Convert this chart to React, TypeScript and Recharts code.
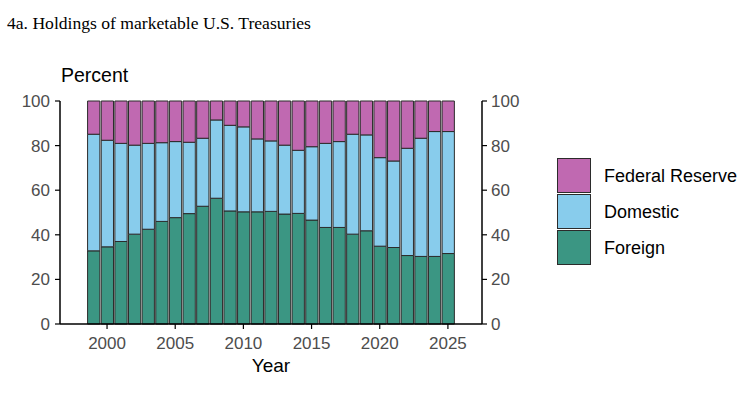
import React from "react";
import { ComposedChart, Bar, Line, XAxis, YAxis } from "recharts";

const years = [
  1999, 2000, 2001, 2002, 2003, 2004, 2005, 2006, 2007, 2008, 2009, 2010, 2011,
  2012, 2013, 2014, 2015, 2016, 2017, 2018, 2019, 2020, 2021, 2022, 2023, 2024, 2025,
];

// share held by foreign investors
const foreign = [
  32.8, 34.6, 37.0, 40.3, 42.5, 46.0, 47.7, 49.5, 52.8, 56.4, 50.7, 50.3, 50.3,
  50.5, 49.3, 49.6, 46.6, 43.3, 43.3, 40.3, 41.8, 34.9, 34.3, 30.7, 30.3, 30.3, 31.6,
];

// share held by domestic private investors
const domestic = [
  52.3, 47.8, 44.0, 39.9, 38.5, 35.3, 34.1, 32.0, 30.5, 35.1, 38.4, 38.1, 32.7,
  31.6, 30.9, 28.3, 32.9, 37.7, 38.5, 44.8, 43.0, 39.7, 38.8, 48.1, 53.0, 56.0, 54.7,
];

// share held by the Federal Reserve
const fed = [
  14.9, 17.6, 19.0, 19.8, 19.0, 18.7, 18.2, 18.5, 16.7, 8.5, 10.9, 11.6, 17.0,
  17.9, 19.8, 22.1, 20.5, 19.0, 18.2, 14.9, 15.2, 25.4, 26.9, 21.2, 16.7, 13.7, 13.7,
];

const yTicks = [0, 20, 40, 60, 80, 100];
const xTicks = [2000, 2005, 2010, 2015, 2020, 2025];

const series = [
  { key: "fed", name: "Federal Reserve", color: "#C069B1" },
  { key: "domestic", name: "Domestic", color: "#88CCEC" },
  { key: "foreign", name: "Foreign", color: "#3B9683" },
];

const data = years.map((year, i) => ({
  year,
  foreign: foreign[i],
  domestic: domestic[i],
  fed: fed[i],
}));

const sans = "'Liberation Sans', Arial, sans-serif";
const tickStyle = { fill: "#4D4D4D", fontSize: 17, fontFamily: sans };

export default function App() {
  return (
    <div style={{ position: "absolute", left: 0, top: 0, width: 753, height: 393, background: "#fff" }}>
      <div
        style={{
          position: "absolute",
          left: 7,
          top: 13,
          fontFamily: "'Liberation Serif', 'Times New Roman', serif",
          fontSize: 17.6,
          color: "#000",
          whiteSpace: "nowrap",
        }}
      >
        4a. Holdings of marketable U.S. Treasuries
      </div>
      <div
        style={{
          position: "absolute",
          left: 61,
          top: 64,
          fontFamily: sans,
          fontSize: 19.5,
          color: "#000",
        }}
      >
        Percent
      </div>

      <div style={{ position: "absolute", left: 0, top: 0 }}>
        <ComposedChart
          width={753}
          height={393}
          data={data}
          margin={{ top: 101, right: 211, bottom: 19, left: 0 }}
        >
          <XAxis
            dataKey="year"
            type="number"
            domain={[1996.55, 2027.5]}
            ticks={xTicks}
            interval={0}
            tick={tickStyle}
            tickSize={5}
            tickMargin={8}
            height={50}
            axisLine={{ stroke: "#000", strokeWidth: 1.5 }}
            tickLine={{ stroke: "#000", strokeWidth: 1.2 }}
            label={{
              value: "Year",
              position: "insideBottom",
              offset: 2,
              style: { fill: "#000", fontSize: 19, fontFamily: sans },
            }}
          />
          <YAxis
            yAxisId="left"
            domain={[0, 100]}
            ticks={yTicks}
            interval={0}
            width={60}
            tick={tickStyle}
            tickSize={5}
            tickMargin={5}
            axisLine={{ stroke: "#000", strokeWidth: 1.5 }}
            tickLine={{ stroke: "#000", strokeWidth: 1.2 }}
          />
          <YAxis
            yAxisId="right"
            orientation="right"
            domain={[0, 100]}
            ticks={yTicks}
            interval={0}
            width={60}
            tick={{ ...tickStyle, textAnchor: "start" }}
            tickSize={5}
            tickMargin={4}
            axisLine={{ stroke: "#000", strokeWidth: 1.5 }}
            tickLine={{ stroke: "#000", strokeWidth: 1.2 }}
          />
          {[...series].reverse().map((s) => (
            <Bar
              key={s.key}
              yAxisId="left"
              dataKey={s.key}
              name={s.name}
              stackId="a"
              fill={s.color}
              stroke="#2b2b2b"
              strokeWidth={1}
              barSize={13.65}
              isAnimationActive={false}
            />
          ))}
          {/* invisible series so the right-hand axis gets drawn */}
          <Line
            yAxisId="right"
            dataKey="foreign"
            stroke="none"
            dot={false}
            activeDot={false}
            isAnimationActive={false}
          />
        </ComposedChart>
      </div>

      {/* legend */}
      <div style={{ position: "absolute", left: 557, top: 158 }}>
        {series.map((s) => (
          <div key={s.key} style={{ display: "flex", alignItems: "center", height: 36 }}>
            <div
              style={{
                width: 34,
                height: 35,
                boxSizing: "border-box",
                background: s.color,
                border: "1px solid #2b2b2b",
                marginTop: -1,
              }}
            />
            <span style={{ marginLeft: 13, fontFamily: sans, fontSize: 18, color: "#000" }}>{s.name}</span>
          </div>
        ))}
      </div>
    </div>
  );
}
